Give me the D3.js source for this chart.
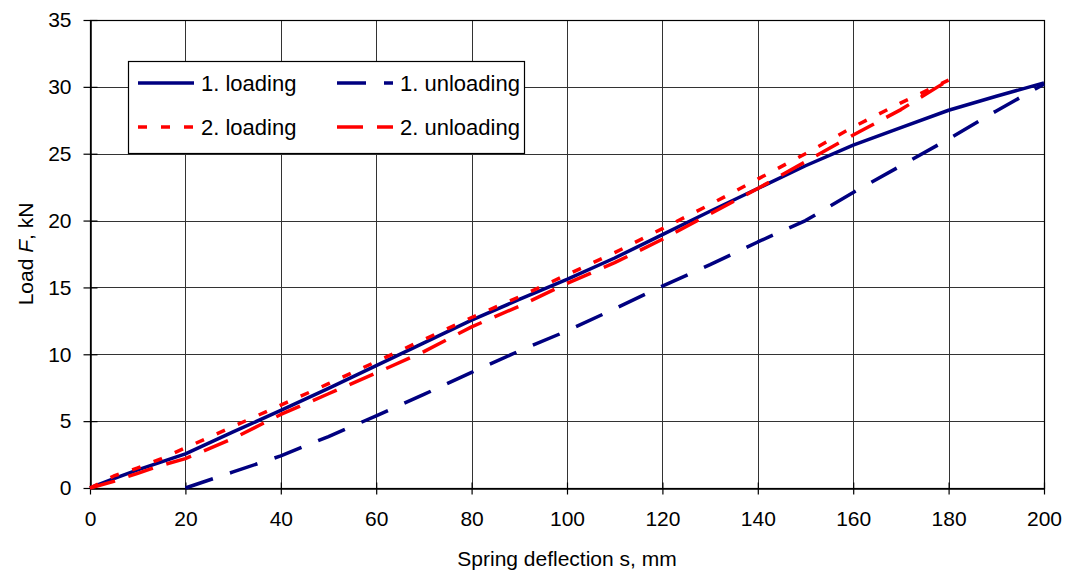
<!DOCTYPE html>
<html>
<head>
<meta charset="utf-8">
<script src="https://cdn.jsdelivr.net/npm/d3@7"></script>
<style>
  body { margin: 0; background: #fff; }
  svg text { font-family: "Liberation Sans", Arial, sans-serif; fill: #000; }
</style>
</head>
<body>
<svg class="stage" width="1070" height="574"></svg>
<script>
(function () {
  // values (deflection in mm, load in kN)
  var load1X = [0, 5, 10, 15, 20, 30, 40, 50, 60, 70, 80, 90, 100, 110, 120, 130, 140, 150, 160, 170, 180, 190, 200];
  var load1Y = [0, 0.7, 1.35, 1.95, 2.55, 4.2, 5.8, 7.45, 9.15, 10.85, 12.55, 14.1, 15.6, 17.2, 18.95, 20.7, 22.4, 24.1, 25.65, 26.95, 28.25, 29.3, 30.3];

  var unload1X = [20, 30, 40, 50, 60, 70, 80, 90, 100, 110, 120, 130, 140, 150, 160, 170, 180, 190, 200];
  var unload1Y = [0, 1.2, 2.4, 3.85, 5.4, 7.0, 8.65, 10.25, 11.75, 13.4, 15.1, 16.7, 18.4, 20.0, 22.1, 24.1, 26.1, 28.2, 30.2];

  var load2X = [0, 5, 10, 15, 20, 30, 40, 50, 60, 70, 80, 90, 100, 110, 120, 130, 140, 150, 160, 170, 180];
  var load2Y = [0, 0.9, 1.5, 2.2, 3.0, 4.6, 6.2, 7.8, 9.45, 11.1, 12.75, 14.3, 15.95, 17.6, 19.4, 21.2, 23.1, 25.0, 27.0, 28.8, 30.5];

  var unload2X = [0, 5, 10, 15, 20, 30, 40, 50, 60, 70, 80, 90, 100, 110, 120, 130, 140, 150, 160, 170, 180];
  var unload2Y = [0, 0.5, 1.1, 1.7, 2.2, 3.7, 5.5, 7.05, 8.6, 10.2, 12.05, 13.6, 15.3, 16.85, 18.6, 20.5, 22.4, 24.4, 26.4, 28.3, 30.5];

  var xTicks = [0, 20, 40, 60, 80, 100, 120, 140, 160, 180, 200];
  var yTicks = [0, 5, 10, 15, 20, 25, 30, 35];

  var series = [
    { name: '1. loading', xs: load1X, ys: load1Y, color: '#000080', dash: null },
    { name: '1. unloading', xs: unload1X, ys: unload1Y, color: '#000080', dash: '29,18' },
    { name: '2. loading', xs: load2X, ys: load2Y, color: '#ff0000', dash: '9,14' },
    { name: '2. unloading', xs: unload2X, ys: unload2Y, color: '#ff0000', dash: '26,14' }
  ];

  var svg = d3.select('svg.stage');

  var margin = { left: 90, right: 1044, top: 20, bottom: 488 };

  var x = d3.scaleLinear().domain([0, 200]).range([margin.left, margin.right]);
  var y = d3.scaleLinear().domain([0, 35]).range([margin.bottom, margin.top]);

  // grid
  var grid = svg.append('g').attr('stroke', '#333').attr('stroke-width', 1);

  grid.selectAll('line.v')
    .data(xTicks)
    .enter().append('line')
    .attr('class', 'v')
    .attr('x1', function (d) { return Math.round(x(d)) + 0.5; })
    .attr('x2', function (d) { return Math.round(x(d)) + 0.5; })
    .attr('y1', margin.top)
    .attr('y2', margin.bottom);

  grid.selectAll('line.h')
    .data(yTicks)
    .enter().append('line')
    .attr('class', 'h')
    .attr('x1', margin.left)
    .attr('x2', margin.right)
    .attr('y1', function (d) { return Math.round(y(d)) + 0.5; })
    .attr('y2', function (d) { return Math.round(y(d)) + 0.5; });

  // axes
  var xAxis = d3.axisBottom(x)
    .tickValues(xTicks)
    .tickSizeInner(6)
    .tickSizeOuter(0)
    .tickPadding(27);

  var yAxis = d3.axisLeft(y)
    .tickValues(yTicks)
    .tickSizeInner(7)
    .tickSizeOuter(0)
    .tickPadding(12);

  var gx = svg.append('g')
    .attr('transform', 'translate(0,' + (Math.round(y(0)) + 0.5) + ')')
    .call(xAxis);

  var gy = svg.append('g')
    .attr('transform', 'translate(' + (Math.round(x(0)) + 0.5) + ',0)')
    .call(yAxis);

  [gx, gy].forEach(function (g) {
    g.select('.domain').attr('stroke', '#000').attr('stroke-width', 1.5);
    g.selectAll('.tick line').attr('stroke', '#000').attr('stroke-width', 1.2);
    g.selectAll('.tick text')
      .attr('font-size', 21)
      .attr('font-family', '"Liberation Sans", Arial, sans-serif')
      .attr('fill', '#000');
  });

  gx.selectAll('.tick line').attr('y1', -6);
  gy.selectAll('.tick line').attr('x1', 7).attr('x2', -7);
  gx.selectAll('.tick text').attr('dy', '0.2em');

  // plot frame
  svg.append('rect')
    .attr('x', Math.round(x(0)) + 0.5)
    .attr('y', Math.round(y(35)) + 0.5)
    .attr('width', Math.round(x(200)) - Math.round(x(0)))
    .attr('height', Math.round(y(0)) - Math.round(y(35)))
    .attr('fill', 'none')
    .attr('stroke', '#000')
    .attr('stroke-width', 1.2);

  // curves
  var line = d3.line()
    .x(function (d) { return x(d[0]); })
    .y(function (d) { return y(d[1]); });

  svg.append('g')
    .selectAll('path')
    .data(series)
    .enter().append('path')
    .attr('d', function (s) {
      return line(d3.zip(s.xs, s.ys));
    })
    .attr('fill', 'none')
    .attr('stroke', function (s) { return s.color; })
    .attr('stroke-width', 3.5)
    .attr('stroke-linejoin', 'round')
    .attr('stroke-dasharray', function (s) { return s.dash; });

  // axis titles
  svg.append('text')
    .attr('x', (margin.left + margin.right) / 2)
    .attr('y', 566)
    .attr('text-anchor', 'middle')
    .attr('font-size', 21)
    .text('Spring deflection s, mm');

  var yTitle = svg.append('text')
    .attr('transform', 'translate(33,' + ((margin.top + margin.bottom) / 2) + ') rotate(-90)')
    .attr('text-anchor', 'middle')
    .attr('font-size', 21);
  yTitle.append('tspan').text('Load ');
  yTitle.append('tspan').attr('font-style', 'italic').text('F');
  yTitle.append('tspan').text(', kN');

  // legend
  var legend = svg.append('g');

  legend.append('rect')
    .attr('x', 128.5)
    .attr('y', 61.5)
    .attr('width', 396)
    .attr('height', 92)
    .attr('fill', '#fff')
    .attr('stroke', '#000')
    .attr('stroke-width', 1.2);

  var item = legend.selectAll('g.item')
    .data(series)
    .enter().append('g')
    .attr('class', 'item')
    .attr('transform', function (s, i) {
      return 'translate(' + (i % 2 === 0 ? 138 : 337) + ',' + (i < 2 ? 83 : 127) + ')';
    });

  item.append('line')
    .attr('x1', 0)
    .attr('x2', 56)
    .attr('stroke', function (s) { return s.color; })
    .attr('stroke-width', 3.5)
    .attr('stroke-dasharray', function (s) { return s.dash; });

  item.append('text')
    .attr('x', 63)
    .attr('dy', '0.35em')
    .attr('font-size', 22)
    .text(function (s) { return s.name; });
})();
</script>
</body>
</html>
